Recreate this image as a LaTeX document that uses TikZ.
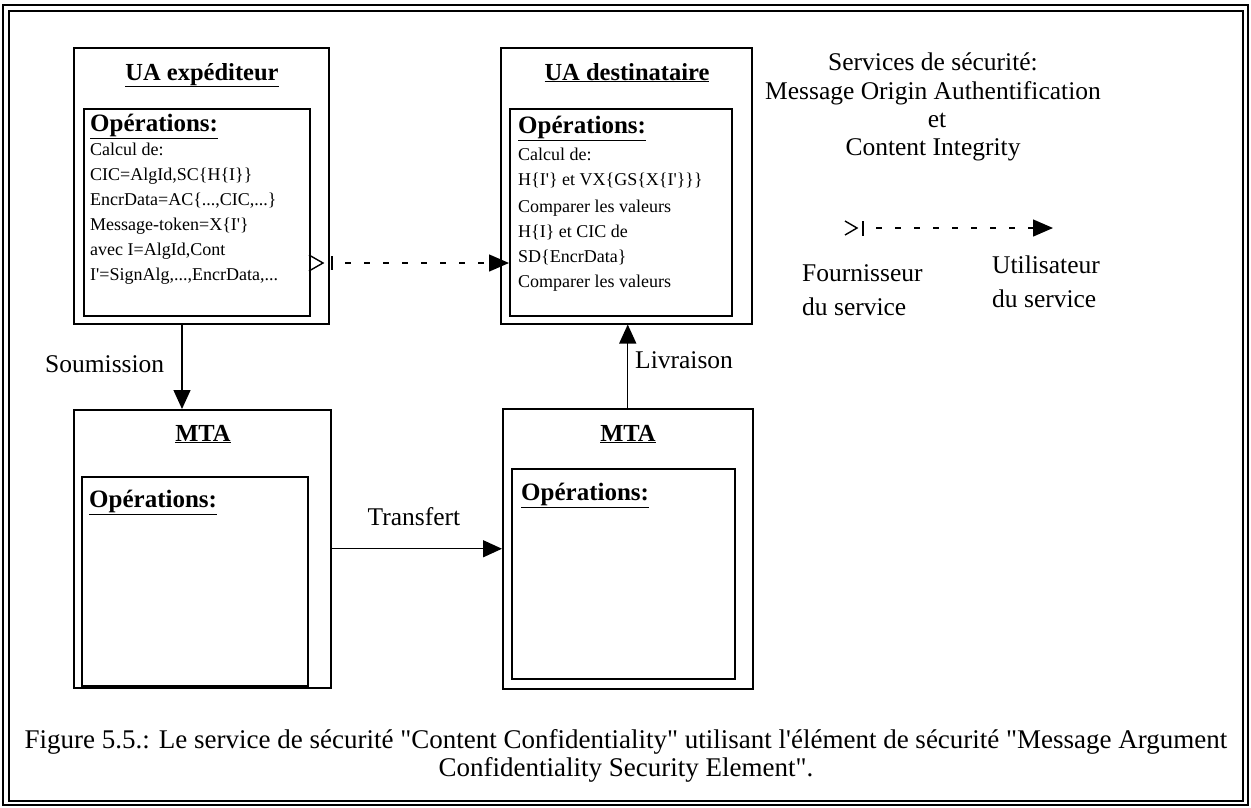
\documentclass[tikz,border=0pt]{standalone}
\usepackage{fontspec}
\setmainfont{Liberation Serif}[Ligatures=TeXOff]
\usetikzlibrary{arrows.meta}

\begin{document}
\begin{tikzpicture}[x=1pt,y=-1pt,
  frame/.style={draw,line width=1.5pt,inner sep=0pt,anchor=north west},
  title/.style={font=\fontsize{24.5}{28}\selectfont\bfseries,anchor=base,inner sep=0pt},
  opshead/.style={font=\fontsize{25}{28}\selectfont\bfseries,anchor=base west,inner sep=0pt},
  opsline/.style={font=\fontsize{18}{25}\selectfont,anchor=base west,inner sep=0pt},
  label/.style={font=\fontsize{25.5}{28}\selectfont,inner sep=0pt},
  caption/.style={font=\fontsize{27}{28}\selectfont,inner sep=0pt,anchor=base},
  flow/.style={line width=1.4pt,-{Triangle[length=19pt,width=17pt]}},
  service/.style={line width=1.4pt,dash pattern=on 6pt off 13pt,dash phase=6pt,
                  -{Triangle[length=20pt,width=17pt]}},
  provider/.style={line width=1.4pt}]
\useasboundingbox (0,0) rectangle (1251,807);

% double page frame
\draw[line width=2.2pt] (3,5) rectangle (1248,805);
\draw[line width=1.3pt] (9,11) rectangle (1243,801);

% ---- UA expediteur ----
\node[frame,minimum width=255pt,minimum height=276pt] (uaE) at (73,47) {};
\node[frame,minimum width=226pt,minimum height=207pt] (uaEin) at (83,108) {};
\node[title] (uaEt) at (202,80) {\underline{UA expéditeur}};
\node[opshead] (uaEo) at (90,131) {\underline{Opérations:}};
\node[opsline] (uaE1) at (90,155) {Calcul de:};
\node[opsline] (uaE2) at (90,180) {CIC=AlgId,SC\{H\{I\}\}};
\node[opsline] (uaE3) at (90,205) {EncrData=AC\{...,CIC,...\}};
\node[opsline] (uaE4) at (90,230) {Message-token=X\{I'\}};
\node[opsline] (uaE5) at (90,255) {avec I=AlgId,Cont};
\node[opsline] (uaE6) at (90,280) {I'=SignAlg,...,EncrData,...};

% ---- UA destinataire ----
\node[frame,minimum width=251pt,minimum height=276pt] (uaD) at (500,47) {};
\node[frame,minimum width=222pt,minimum height=207pt] (uaDin) at (509,108) {};
\node[title] (uaDt) at (627,80) {\underline{UA destinataire}};
\node[opshead] (uaDo) at (518,133) {\underline{Opérations:}};
\node[opsline] (uaD1) at (518,160) {Calcul de:};
\node[opsline] (uaD2) at (518,185) {H\{I'\} et VX\{GS\{X\{I'\}\}\}};
\node[opsline] (uaD3) at (518,212) {Comparer les valeurs};
\node[opsline] (uaD4) at (518,237) {H\{I\} et CIC de};
\node[opsline] (uaD5) at (518,262) {SD\{EncrData\}};
\node[opsline] (uaD6) at (518,287) {Comparer les valeurs};

% ---- MTA (left) ----
\node[frame,minimum width=257pt,minimum height=278pt] (mtaL) at (73,409) {};
\node[frame,minimum width=226pt,minimum height=209pt] (mtaLin) at (81,476) {};
\node[title] (mtaLt) at (203,441) {\underline{MTA}};
\node[opshead] (mtaLo) at (89,507) {\underline{Opérations:}};

% ---- MTA (right) ----
\node[frame,minimum width=250pt,minimum height=280pt] (mtaR) at (502,408) {};
\node[frame,minimum width=223pt,minimum height=210pt] (mtaRin) at (511,468) {};
\node[title] (mtaRt) at (628,441) {\underline{MTA}};
\node[opshead] (mtaRo) at (521,500) {\underline{Opérations:}};

% ---- message flow ----
\coordinate (sub) at (182,323);
\draw[flow] (sub) -- (sub |- mtaL.north);
\node[label,anchor=base west] (subL) at (45,372) {Soumission};

\draw[flow] (mtaL.east) -- (mtaR.west);
\node[label,anchor=base] (trL) at (414,525) {Transfert};

\draw[flow] (mtaR.north) -- (mtaR.north |- uaD.south);
\node[label,anchor=base west] (livL) at (635,368) {Livraison};

% ---- security service: provider -> user ----
\draw[provider] (309,255) -- (323,263) -- (309,271);
\draw[provider] (332,256) -- (332,270);
\coordinate (prov) at (332,263);
\draw[service] (prov) -- (prov -| uaDin.west);

% ---- legend ----
\node[label,anchor=base] (lg1) at (933,70) {Services de sécurité:};
\node[label,anchor=base] (lg2) at (933,99) {Message Origin Authentification};
\node[label,anchor=base] (lg3) at (937,127) {et};
\node[label,anchor=base] (lg4) at (933,155) {Content Integrity};

\draw[provider] (845,221) -- (857,228) -- (845,235);
\draw[provider] (863,221) -- (863,236);
\coordinate (legA) at (863,228);
\coordinate (legB) at (1053,228);
\draw[service] (legA) -- (legB);

\node[label,anchor=base west] (lgF) at (802,281) {Fournisseur};
\node[label,anchor=base west] (lgF2) at (802,315) {du service};
\node[label,anchor=base west] (lgU) at (992,273) {Utilisateur};
\node[label,anchor=base west] (lgU2) at (992,307) {du service};

% ---- caption ----
\node[caption] (cap1) at (626,748) {Figure 5.5.: Le service de sécurité "Content Confidentiality" utilisant l'élément de sécurité "Message Argument};
\node[caption] (cap2) at (626,776) {Confidentiality Security Element".};
\end{tikzpicture}
\end{document}
